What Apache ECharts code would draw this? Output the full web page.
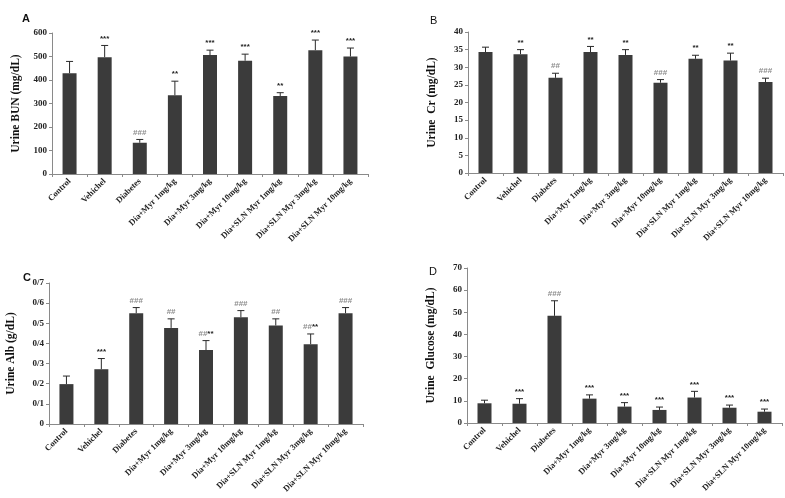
<!DOCTYPE html>
<html><head><meta charset="utf-8">
<script src="https://cdn.jsdelivr.net/npm/echarts@6/dist/echarts.min.js"></script>
<style>html,body{margin:0;padding:0;background:#fff}#c{width:785px;height:498px}</style>
</head><body><div id="c"></div>
<script>
const categories = ['Control','Vehichel','Diabetes','Dia+Myr 1mg/kg','Dia+Myr 3mg/kg','Dia+Myr 10mg/kg','Dia+SLN Myr 1mg/kg','Dia+SLN Myr 3mg/kg','Dia+SLN Myr 10mg/kg'];

const bunMean = [429,497,133,335,506,482,332,527,500];
const bunErr  = [50,50,14,60,21,28,14,43,36];
const bunSig  = ['','***','###','**','***','***','**','***','***'];

const crMean = [34.3,33.7,27.0,34.3,33.5,25.6,32.4,31.9,25.8];
const crErr  = [1.4,1.3,1.3,1.6,1.5,0.9,1.0,2.1,1.1];
const crSig  = ['','**','##','**','**','###','**','**','###'];

const albMean = [0.198,0.272,0.55,0.477,0.367,0.53,0.489,0.396,0.55];
const albErr  = [0.04,0.053,0.028,0.045,0.047,0.033,0.033,0.051,0.028];
const albSig  = ['','***','###','##','##**','###','##','##**','###'];

const gluMean = [8.9,8.7,48.4,11.0,7.4,5.9,11.5,6.9,5.1];
const gluErr  = [1.4,2.3,6.8,1.7,1.8,1.3,2.8,1.2,1.2];
const gluSig  = ['','***','###','***','***','***','***','***','***'];

const panels = [
  {title:'A', name:'Urine BUN (mg/dL)', max:600, interval:100, mean:bunMean, err:bunErr, sig:bunSig,
   grid:{left:52, top:33, width:316, height:141}, titlePos:[17,8], nameGap:30, fmt:v=>String(v)},
  {title:'B', name:'Urine  Cr (mg/dL)', max:40, interval:5, mean:crMean, err:crErr, sig:crSig,
   grid:{left:468, top:32, width:315, height:141}, titlePos:[425,10], nameGap:30, fmt:v=>String(v)},
  {title:'C', name:'Urine Alb (g/dL)', max:0.7, interval:0.1, mean:albMean, err:albErr, sig:albSig,
   grid:{left:49, top:283, width:314, height:141}, titlePos:[18,267], nameGap:32, fmt:v=>v===0?'0':v.toFixed(1).replace('.','/')},
  {title:'D', name:'Urine  Glucose (mg/dL)', max:70, interval:10, mean:gluMean, err:gluErr, sig:gluSig,
   grid:{left:467, top:268, width:315, height:155}, titlePos:[424,261], nameGap:30, fmt:v=>String(v)}
];

const serif = 'Liberation Serif';
const option = {animation:false, backgroundColor:'#fff', title:[], grid:[], xAxis:[], yAxis:[], series:[]};

panels.forEach((p,i)=>{
  option.title.push({text:p.title, left:p.titlePos[0], top:p.titlePos[1],
    textStyle:{fontFamily:'Liberation Sans', fontSize:11, fontWeight:(p.title==='A'||p.title==='C')?'bold':'normal', color:'#111'}});
  option.grid.push(p.grid);
  option.xAxis.push({type:'category', gridIndex:i, data:categories,
    axisLine:{lineStyle:{color:'#8a8a8a', width:1}},
    axisTick:{show:true, length:3, lineStyle:{color:'#8a8a8a'}},
    axisLabel:{rotate:45, interval:0, margin:6, fontFamily:serif, fontWeight:'bold', fontSize:8.5, color:'#222'}});
  option.yAxis.push({type:'value', gridIndex:i, min:0, max:p.max, interval:p.interval,
    name:p.name, nameLocation:'middle', nameGap:p.nameGap, nameRotate:90,
    nameTextStyle:{fontFamily:serif, fontWeight:'bold', fontSize:11.5, color:'#111'},
    splitLine:{show:false},
    axisLine:{show:true, lineStyle:{color:'#8a8a8a', width:1}},
    axisTick:{show:true, length:3, lineStyle:{color:'#8a8a8a'}},
    axisLabel:{formatter:p.fmt, margin:5, fontFamily:serif, fontWeight:'bold', fontSize:9, color:'#222'}});
  option.series.push({type:'bar', xAxisIndex:i, yAxisIndex:i, data:p.mean, barWidth:14,
    itemStyle:{color:'#3b3b3b'}});
  const errData = p.mean.map((m,k)=>[k, m, m+p.err[k], p.sig[k]]);
  option.series.push({type:'custom', xAxisIndex:i, yAxisIndex:i, data:errData, z:5,
    renderItem:(params, api)=>{
      const k = api.value(0), m = api.value(1), t = api.value(2);
      const s = p.sig[k];
      const p0 = api.coord([k, m]), p1 = api.coord([k, t]);
      const children = [
        {type:'line', shape:{x1:p0[0], y1:p0[1], x2:p1[0], y2:p1[1]}, style:{stroke:'#2a2a2a', lineWidth:1}},
        {type:'line', shape:{x1:p0[0]-3.5, y1:p1[1], x2:p0[0]+3.5, y2:p1[1]}, style:{stroke:'#2a2a2a', lineWidth:1}}
      ];
      if (s) {
        const h = (s.match(/#+/)||[''])[0], st = (s.match(/\*+/)||[''])[0];
        let txt = '';
        if (h) txt += '{g|'+h+'}';
        if (st) txt += '{k|'+st+'}';
        children.push({type:'text', x:p1[0], y:p1[1]-3, style:{text:txt, align:'center', verticalAlign:'bottom',
          rich:{g:{fill:'#8c8c8c', fontFamily:'Liberation Sans', fontSize:8, fontWeight:'bold'},
                k:{fill:'#222', fontFamily:'Liberation Sans', fontSize:8, fontWeight:'bold'}}}});
      }
      return {type:'group', children};
    }});
});

echarts.init(document.getElementById('c'), null, {renderer:'canvas'}).setOption(option);
</script></body></html>
